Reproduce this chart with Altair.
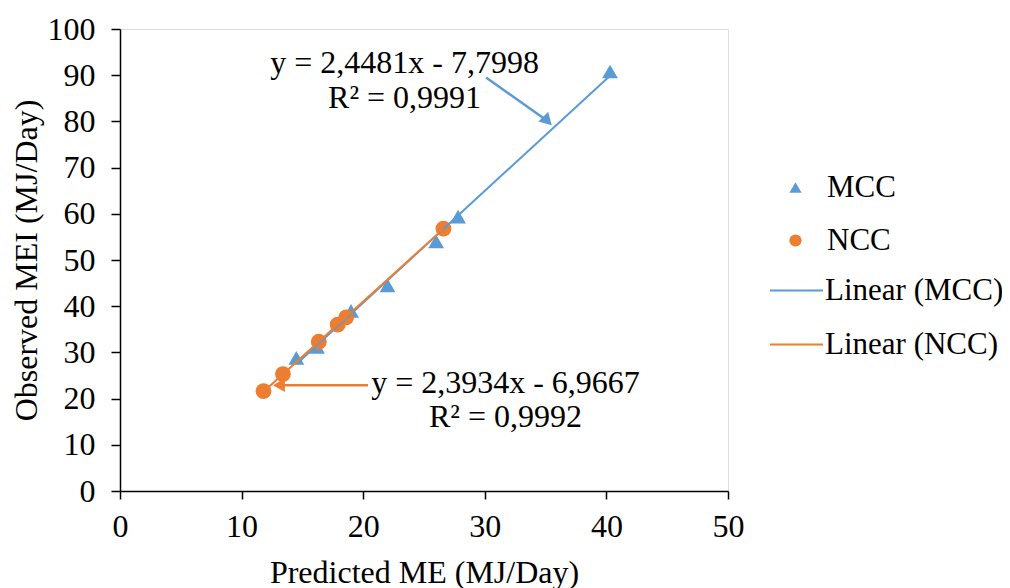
import altair as alt
import pandas as pd

# ---- data ----
mcc_x = [14.5, 16.2, 19.0, 22.0, 26.0, 27.8, 40.3]
mcc_y = [28.8, 31.2, 39.0, 44.5, 54.0, 59.4, 90.8]
ncc_x = [11.8, 13.4, 16.35, 17.9, 18.6, 26.6]
ncc_y = [21.6, 25.3, 32.3, 36.0, 37.6, 56.8]

series_names = ["MCC", "NCC"]
trend_names = ["Linear (MCC)", "Linear (NCC)"]
x_ticks = [0, 10, 20, 30, 40, 50]
y_ticks = [0, 10, 20, 30, 40, 50, 60, 70, 80, 90, 100]

# annotation texts (equation labels) and their anchor positions (data units)
ann_text = ["y = 2,4481x - 7,7998", "R² = 0,9991", "y = 2,3934x - 6,9667", "R² = 0,9992"]
ann_x = [23.4, 23.4, 31.7, 31.7]
ann_y = [92.6, 85.1, 23.4, 16.0]

# annotation arrows: start -> head (data units)
arrow_series = ["MCC", "NCC"]
arrow_x = [30.1, 20.4]
arrow_y = [89.5, 22.9]
arrow_x2 = [35.16, 13.07]
arrow_y2 = [80.1, 22.9]
arrow_angle = [135, 270]

BLUE = "#5B9BD5"
ORANGE = "#ED7D31"
FONT = "Liberation Serif"
FS = 32

pts = pd.DataFrame({
    "x": mcc_x + ncc_x,
    "y": mcc_y + ncc_y,
    "series": ["MCC"] * len(mcc_x) + ["NCC"] * len(ncc_x),
})
ann = pd.DataFrame({"x": ann_x, "y": ann_y, "text": ann_text})
arrows = pd.DataFrame({"x": arrow_x, "y": arrow_y, "x2": arrow_x2, "y2": arrow_y2,
                       "series": arrow_series, "angle": arrow_angle})

x_scale = alt.Scale(domain=[0, 50], nice=False, zero=False)
y_scale = alt.Scale(domain=[0, 100], nice=False, zero=False)

x_axis = alt.Axis(title="Predicted ME (MJ/Day)", values=x_ticks, grid=False, labelFlush=False,
                  tickSize=8, labelPadding=12, titlePadding=15,
                  labelFont=FONT, labelFontSize=FS, titleFont=FONT, titleFontSize=FS,
                  titleFontWeight="normal", labelColor="black", titleColor="black",
                  domainColor="black", tickColor="black", domainWidth=1.5, tickWidth=1.5)
y_axis = alt.Axis(title="Observed MEI (MJ/Day)", values=y_ticks, grid=False, labelFlush=False,
                  tickSize=9, labelPadding=16, titlePadding=4,
                  labelFont=FONT, labelFontSize=FS, titleFont=FONT, titleFontSize=FS,
                  titleFontWeight="normal", labelColor="black", titleColor="black",
                  domainColor="black", tickColor="black", domainWidth=1.5, tickWidth=1.5)

X = alt.X("x:Q", scale=x_scale, axis=x_axis)
Y = alt.Y("y:Q", scale=y_scale, axis=y_axis)

pt_legend = alt.Legend(title=None, orient="none", legendX=660, legendY=143,
                       symbolSize=150, labelFont=FONT, labelFontSize=31,
                       labelColor="black", labelOffset=16, rowPadding=21, labelLimit=0)
points = alt.Chart(pts).mark_point(filled=True, opacity=1, size=250).encode(
    x=X, y=Y,
    color=alt.Color("series:N", scale=alt.Scale(domain=series_names, range=[BLUE, ORANGE]),
                    legend=pt_legend),
    shape=alt.Shape("series:N", scale=alt.Scale(domain=series_names, range=["triangle-up", "circle"]),
                    legend=pt_legend),
)

ln_legend = alt.Legend(title=None, orient="none", legendX=649, legendY=234,
                       symbolType="stroke", symbolSize=2809, symbolStrokeWidth=2,
                       labelFont=FONT, labelFontSize=31, labelColor="black",
                       labelOffset=1, rowPadding=11, labelLimit=0)
lines = alt.Chart(pts).transform_regression(
    "x", "y", groupby=["series"]
).transform_calculate(
    trend='"Linear (" + datum.series + ")"'
).mark_line(strokeWidth=2).encode(
    x=X, y=Y,
    stroke=alt.Stroke("trend:N", scale=alt.Scale(domain=trend_names, range=[BLUE, ORANGE]),
                      legend=ln_legend),
)

arrow_layers = []
for name, col in [("MCC", BLUE), ("NCC", ORANGE)]:
    base = alt.Chart(arrows).transform_filter(alt.datum.series == name)
    rule = base.mark_rule(color=col, strokeWidth=2.5).encode(
        x=X, y=Y, x2="x2:Q", y2="y2:Q")
    head = base.mark_point(shape="triangle-up", filled=True, opacity=1, size=190, color=col).encode(
        x=alt.X("x2:Q", scale=x_scale, axis=x_axis), y=alt.Y("y2:Q", scale=y_scale, axis=y_axis),
        angle=alt.Angle("angle:Q", scale=None))
    arrow_layers += [rule, head]

labels = alt.Chart(ann).mark_text(font=FONT, fontSize=FS, color="black",
                                  align="center", baseline="middle").encode(
    x=X, y=Y, text="text:N")

chart = alt.layer(points, lines, *arrow_layers, labels).properties(
    width=608, height=462,
    autosize=alt.AutoSizeParams(type="none"),
    padding={"left": 112, "top": 21, "right": 274, "bottom": 97},
).configure_view(stroke=None).configure(background="white")

chart.save("out.html", embed_options={"renderer": "svg", "actions": False})
